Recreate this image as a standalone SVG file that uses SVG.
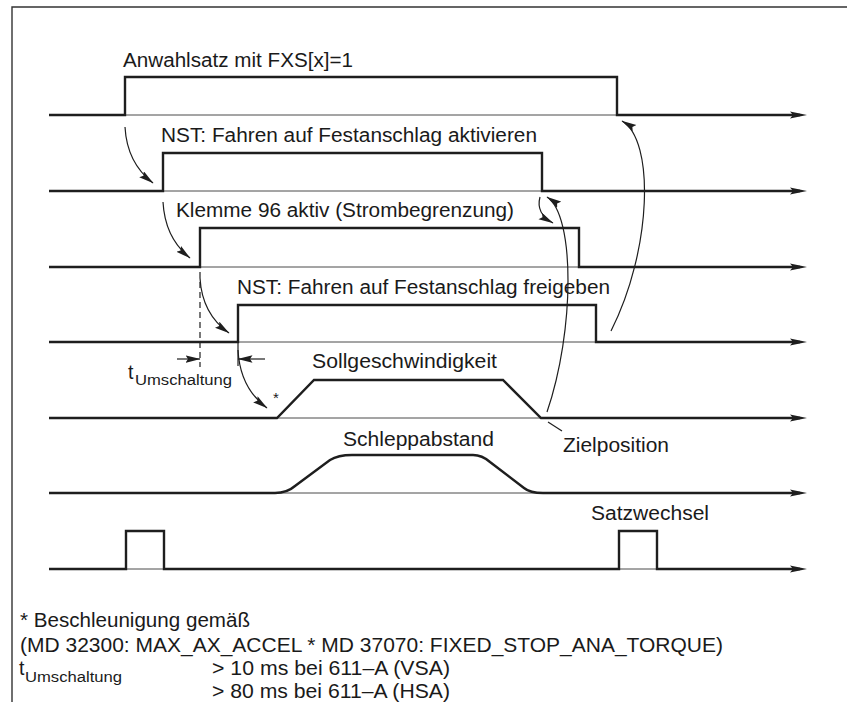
<svg xmlns="http://www.w3.org/2000/svg" width="847" height="702" viewBox="0 0 847 702">
  <style>
    .sig { fill: none; stroke: #1e1e1e; stroke-width: 2.4; stroke-linejoin: miter; marker-end: url(#axis); }
    .base { fill: none; stroke: #4a4a4a; stroke-width: 1; }
    .conn { fill: none; stroke: #1e1e1e; stroke-width: 1.2; }
    .dim { fill: none; stroke: #1e1e1e; stroke-width: 1.2; }
    .lbl { font-family: "Liberation Sans", Arial, Helvetica, sans-serif; font-size: 19.5px; fill: #1a1a1a; }
    .sub { font-size: 14px; }
    .star { font-size: 15px; }
  </style>
  <defs>
    <marker id="axis" markerUnits="userSpaceOnUse" markerWidth="18" markerHeight="8" refX="10" refY="4" orient="auto">
      <path d="M0,0.5 L17,4 L0,7.5 L3,4 z" fill="#1e1e1e"/>
    </marker>
    <marker id="head" markerUnits="userSpaceOnUse" markerWidth="16" markerHeight="8" refX="14.5" refY="3.75" orient="auto">
      <path d="M0,0 L15,3.75 L0,7.5 L2.5,3.75 z" fill="#1e1e1e"/>
    </marker>
  </defs>

  <rect width="847" height="702" fill="#ffffff"/>

  <!-- frame -->
  <path d="M12,702 V7 H847" fill="none" stroke="#333" stroke-width="1.4"/>

  <!-- signal traces -->
  <g id="anwahlsatz">
    <path class="base" d="M125,115 H617"/>
    <path class="sig" d="M49,115 H125 V77 H617 V115 H800"/>
    <text class="lbl" x="123" y="67" textLength="230" lengthAdjust="spacingAndGlyphs">Anwahlsatz mit FXS[x]=1</text>
  </g>

  <g id="nst-aktivieren">
    <path class="base" d="M163,191 H542"/>
    <path class="sig" d="M49,191 H163 V153 H542 V191 H800"/>
    <text class="lbl" x="161" y="142" textLength="376" lengthAdjust="spacingAndGlyphs">NST: Fahren auf Festanschlag aktivieren</text>
  </g>

  <g id="klemme96">
    <path class="base" d="M200,267 H579"/>
    <path class="sig" d="M49,267 H200 V228 H579 V267 H800"/>
    <text class="lbl" x="176" y="217" textLength="338" lengthAdjust="spacingAndGlyphs">Klemme 96 aktiv (Strombegrenzung)</text>
  </g>

  <g id="nst-freigeben">
    <path class="base" d="M238,342 H596"/>
    <path class="sig" d="M49,342 H238 V305 H596 V342 H800"/>
    <text class="lbl" x="237" y="294" textLength="373" lengthAdjust="spacingAndGlyphs">NST: Fahren auf Festanschlag freigeben</text>
  </g>

  <g id="sollgeschwindigkeit">
    <path class="base" d="M277,418 H541"/>
    <path class="sig" d="M49,418 H277 L314,380 H503 L541,418 H800"/>
    <text class="lbl" x="312" y="368" textLength="185" lengthAdjust="spacingAndGlyphs">Sollgeschwindigkeit</text>
    <text class="lbl star" x="273" y="403">*</text>
  </g>

  <g id="schleppabstand">
    <path class="base" d="M275,493 H543"/>
    <path class="sig" d="M49,493 H275 Q287,493 295,486 L330,460 Q338,455 352,455 H473 Q482,455 490,462 L524,488 Q530,493 543,493 H800"/>
    <text class="lbl" x="343" y="446" textLength="151" lengthAdjust="spacingAndGlyphs">Schleppabstand</text>
  </g>

  <g id="zielposition">
    <path class="conn" d="M548,422 L562,431"/>
    <text class="lbl" x="563" y="452" textLength="106" lengthAdjust="spacingAndGlyphs">Zielposition</text>
  </g>

  <g id="satzwechsel">
    <path class="base" d="M126,569 H164 M619,569 H657"/>
    <path class="sig" d="M49,569 H126 V531 H164 V569 H619 V531 H657 V569 H800"/>
    <text class="lbl" x="591" y="520" textLength="118" lengthAdjust="spacingAndGlyphs">Satzwechsel</text>
  </g>

  <!-- switchover time dimension -->
  <g id="t-umschaltung">
    <path class="dim" d="M200,272 V367" stroke-dasharray="6,4"/>
    <path class="dim" d="M238,342 V366"/>
    <path class="dim" d="M177,359 H200" marker-end="url(#head)"/>
    <path class="dim" d="M265,359 H238" marker-end="url(#head)"/>
    <text class="lbl" x="128" y="379">t<tspan class="sub" x="135" y="385" textLength="97" lengthAdjust="spacingAndGlyphs">Umschaltung</tspan></text>
  </g>

  <!-- cause/effect connectors -->
  <g id="connectors">
    <path class="conn" d="M125,127 Q127,163 153,183" marker-end="url(#head)"/>
    <path class="conn" d="M163,202 Q165,238 190,258" marker-end="url(#head)"/>
    <path class="conn" d="M200,278 Q202,314 229,333" marker-end="url(#head)"/>
    <path class="conn" d="M238,350 Q240,388 267,408" marker-end="url(#head)"/>
    <path class="conn" d="M540,197 C537,208 542,217 553,223" marker-end="url(#head)"/>
    <path class="conn" d="M547,412 C575,330 575,215 547,197" marker-end="url(#head)"/>
    <path class="conn" d="M611,331 C652,250 655,140 622,121" marker-end="url(#head)"/>
  </g>

  <!-- footnote -->
  <g id="footnote">
    <text class="lbl" x="20" y="627" textLength="230" lengthAdjust="spacingAndGlyphs">* Beschleunigung gemäß</text>
    <text class="lbl" x="20" y="652" textLength="703" lengthAdjust="spacingAndGlyphs">(MD 32300: MAX_AX_ACCEL * MD 37070: FIXED_STOP_ANA_TORQUE)</text>
    <text class="lbl" x="19" y="675">t<tspan class="sub" x="25" y="682" textLength="97" lengthAdjust="spacingAndGlyphs">Umschaltung</tspan></text>
    <text class="lbl" x="212" y="675" textLength="238" lengthAdjust="spacingAndGlyphs">&gt; 10 ms bei 611–A (VSA)</text>
    <text class="lbl" x="212" y="698" textLength="238" lengthAdjust="spacingAndGlyphs">&gt; 80 ms bei 611–A (HSA)</text>
  </g>
</svg>
